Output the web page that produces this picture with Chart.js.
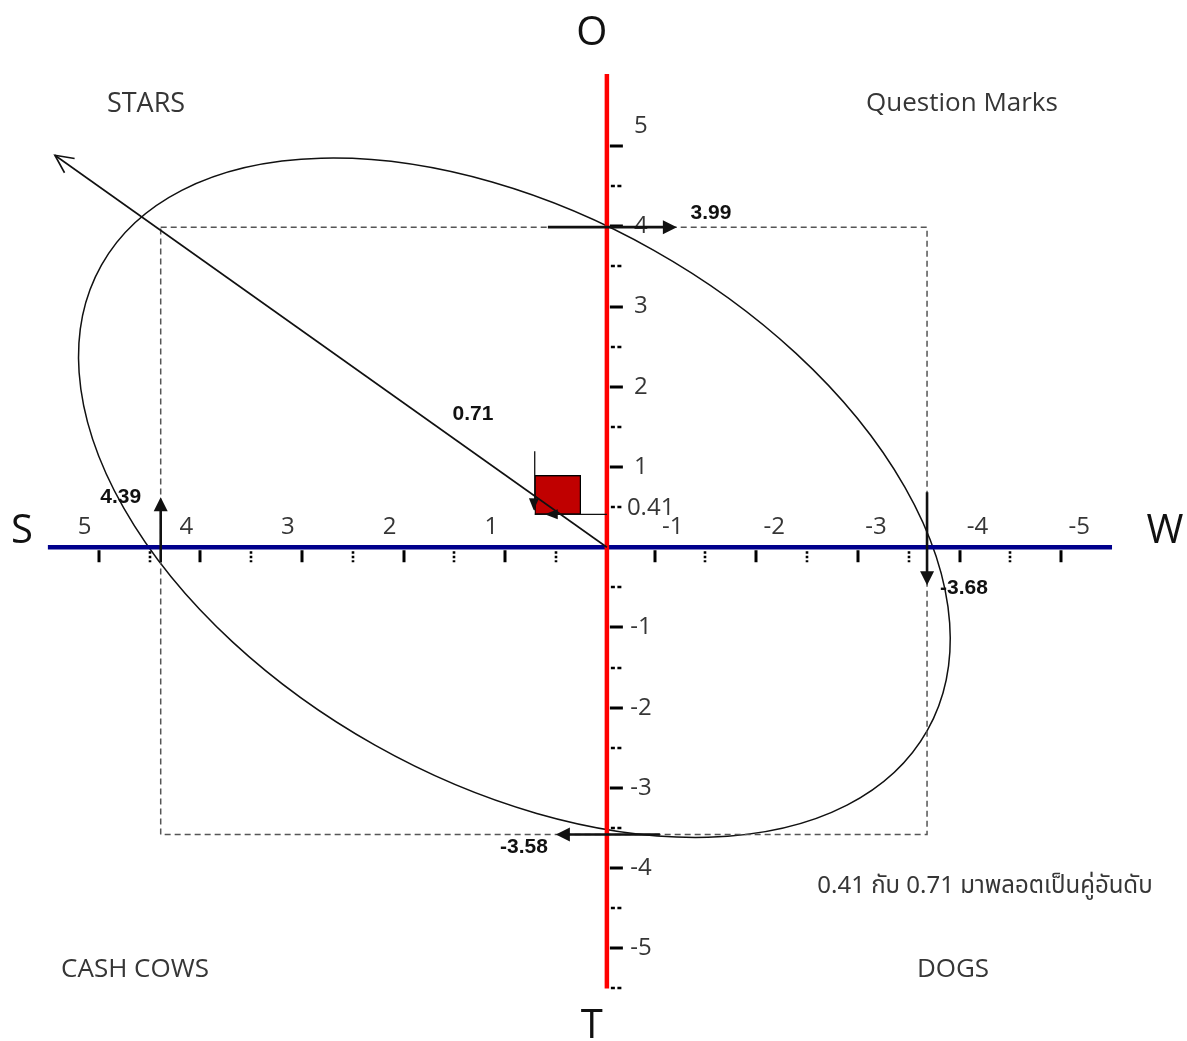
<!DOCTYPE html>
<html>
<head>
<meta charset="utf-8">
<title>SWOT position</title>
<script src="https://cdn.jsdelivr.net/npm/chart.js@4.4.1/dist/chart.umd.min.js"></script>
<style>
    html, body { margin: 0; padding: 0; background: #fff; }
    #wrap { width: 1187px; height: 1041px; position: relative; }
</style>
</head>
<body>
<div id="wrap"><canvas id="swot"></canvas></div>
<script>
/* ---------- data ---------- */
// scores on each axis: S (x+), W (x-), O (y+), T (y-)
const axisNames  = ['S', 'W', 'O', 'T'];
const axisScores = [4.39, -3.68, 3.99, -3.58];
// plotted position (x, y)
const positionXY = [0.71, 0.41];
// axis ticks
const xTickValues  = [5, 4, 3, 2, 1, -1, -2, -3, -4, -5];
const xMinorValues = [4.5, 3.5, 2.5, 1.5, 0.5, -1.5, -2.5, -3.5, -4.5];
const yTickValues  = [5, 4, 3, 2, 1, -1, -2, -3, -4, -5];
const yMinorValues = [4.5, 3.5, 2.5, 1.5, 0.5, -0.5, -1.5, -2.5, -3.5, -4.5, -5.5];
const xAxisExtent = [5.5, -5.5];
const yAxisExtent = [5.9, -5.5];
const quadrantNames = ['STARS', 'Question Marks', 'CASH COWS', 'DOGS'];
const noteText = '0.41 กับ 0.71 มาพลอตเป็นคู่อันดับ';

/* ---------- layout / style ---------- */
const W = 1187, H = 1041;
const ORIGIN_X = 607, ORIGIN_Y = 547.5;
const UNIT_X = 102.5, UNIT_Y = 81;
const NEG_SHIFT = 0.53;          // the W side of the drawn axis starts about half a unit late
const BLUE = '#00008c', RED = '#ff0000', INK = '#111', GREY_TXT = '#363636';
const FONT = "'Open Sans', 'Noto Sans', 'DejaVu Sans', sans-serif";
const THAI_FONT = "'Noto Sans Thai', Tahoma, Loma, Garuda, 'Open Sans', 'Noto Sans', sans-serif";
const BOLD_FONT = "bold 21px 'Liberation Sans', Arial, sans-serif";
const ELLIPSE = { dx: -92.5, dy: -49.5, rx: 474, ry: 284, rot: 29.4 };
const DIAG = { dx: -552, dy: -392 };
const BOX = { w: 46, h: 39 };

// x scale: linear, but values below zero sit NEG_SHIFT further along
class ShiftedLinear extends Chart.LinearScale {
    getPixelForValue(v) {
        return super.getPixelForValue(v < 0 ? v + NEG_SHIFT : v);
    }
}
ShiftedLinear.id = 'shiftedLinear';
ShiftedLinear.defaults = Chart.LinearScale.defaults;
Chart.register(ShiftedLinear);

// red square marker, lower-left corner on the point
function makeBox() {
    const c = document.createElement('canvas');
    c.width = BOX.w * 2; c.height = BOX.h * 2;
    const g = c.getContext('2d');
    g.fillStyle = '#c00000';
    g.fillRect(BOX.w, 0, BOX.w, BOX.h);
    g.strokeStyle = '#000'; g.lineWidth = 1;
    g.strokeRect(BOX.w + 0.5, 0.5, BOX.w - 1, BOX.h - 1);
    return c;
}

function arrowHead(ctx, x1, y1, x2, y2, len, hw) {
    const a = Math.atan2(y2 - y1, x2 - x1);
    ctx.beginPath();
    ctx.moveTo(x2, y2);
    ctx.lineTo(x2 - len * Math.cos(a) + hw * Math.sin(a), y2 - len * Math.sin(a) - hw * Math.cos(a));
    ctx.lineTo(x2 - len * Math.cos(a) - hw * Math.sin(a), y2 - len * Math.sin(a) + hw * Math.cos(a));
    ctx.closePath();
    ctx.fill();
}

function arrow(ctx, x1, y1, x2, y2, lw, len, hw) {
    const a = Math.atan2(y2 - y1, x2 - x1);
    ctx.lineWidth = lw;
    ctx.beginPath();
    ctx.moveTo(x1, y1);
    ctx.lineTo(x2 - (len - 2) * Math.cos(a), y2 - (len - 2) * Math.sin(a));
    ctx.stroke();
    arrowHead(ctx, x1, y1, x2, y2, len, hw);
}

function text(ctx, str, x, y, font, color, align) {
    ctx.font = font;
    ctx.fillStyle = color;
    ctx.textAlign = align || 'center';
    ctx.textBaseline = 'middle';
    ctx.fillText(str, x, y);
}

const swotPlugin = {
    id: 'swotDiagram',
    beforeDatasetsDraw(chart) {
        const { ctx, scales: { x, y } } = chart;
        const ox = x.getPixelForValue(0), oy = y.getPixelForValue(0);
        ctx.save();

        // ellipse
        ctx.strokeStyle = INK; ctx.lineWidth = 1.5;
        ctx.beginPath();
        ctx.ellipse(ox + ELLIPSE.dx, oy + ELLIPSE.dy, ELLIPSE.rx, ELLIPSE.ry, ELLIPSE.rot * Math.PI / 180, 0, Math.PI * 2);
        ctx.stroke();

        // S - W axis
        ctx.strokeStyle = BLUE; ctx.lineWidth = 4.5;
        ctx.beginPath();
        ctx.moveTo(x.getPixelForValue(xAxisExtent[0]), oy);
        ctx.lineTo(x.getPixelForValue(xAxisExtent[1]), oy);
        ctx.stroke();

        // O - T axis
        ctx.strokeStyle = RED; ctx.lineWidth = 4.5;
        ctx.beginPath();
        ctx.moveTo(ox, y.getPixelForValue(yAxisExtent[0]));
        ctx.lineTo(ox, y.getPixelForValue(yAxisExtent[1]));
        ctx.stroke();

        // ticks
        ctx.strokeStyle = '#000'; ctx.lineWidth = 3;
        xTickValues.forEach(v => {
            const px = Math.round(x.getPixelForValue(v));
            ctx.beginPath(); ctx.moveTo(px, oy + 3); ctx.lineTo(px, oy + 15); ctx.stroke();
        });
        yTickValues.forEach(v => {
            const py = Math.round(y.getPixelForValue(v));
            ctx.beginPath(); ctx.moveTo(ox + 3, py); ctx.lineTo(ox + 16, py); ctx.stroke();
        });
        ctx.lineWidth = 2.6;
        ctx.setLineDash([2.5, 2]);
        xMinorValues.forEach(v => {
            const px = Math.round(x.getPixelForValue(v));
            ctx.beginPath(); ctx.moveTo(px, oy + 4); ctx.lineTo(px, oy + 15); ctx.stroke();
        });
        ctx.setLineDash([4, 2.5]);
        yMinorValues.forEach(v => {
            const py = Math.round(y.getPixelForValue(v));
            ctx.beginPath(); ctx.moveTo(ox + 4, py); ctx.lineTo(ox + 16, py); ctx.stroke();
        });
        ctx.setLineDash([]);

        // tick labels
        xTickValues.forEach(v => {
            const px = x.getPixelForValue(v) + (v > 0 ? -14 : 18);
            text(ctx, String(v), px, oy - 20, `24px ${FONT}`, GREY_TXT);
        });
        yTickValues.forEach(v => {
            const py = y.getPixelForValue(v) + (v === 5 ? -20 : 0);
            text(ctx, String(v), ox + 34, py, `24px ${FONT}`, GREY_TXT);
        });
        ctx.restore();
    },
    afterDatasetsDraw(chart) {
        const { ctx, scales: { x, y } } = chart;
        const ox = x.getPixelForValue(0), oy = y.getPixelForValue(0);
        const [s, w, o, t] = axisScores;
        const sx = x.getPixelForValue(s), wx = x.getPixelForValue(w);
        const oyPx = y.getPixelForValue(o), tyPx = y.getPixelForValue(t);
        const px = x.getPixelForValue(positionXY[0]), py = y.getPixelForValue(positionXY[1]);
        ctx.save();
        ctx.strokeStyle = INK; ctx.fillStyle = INK;

        // thin projection arrows onto the point
        ctx.lineWidth = 1.3;
        ctx.beginPath(); ctx.moveTo(px, py - 63); ctx.lineTo(px, py - 4); ctx.stroke();
        arrowHead(ctx, px, py - 63, px - 1, py - 4, 12, 5);
        arrowHead(ctx, ox, py, px + 10, py, 13, 5);

        // diagonal with open head
        const dx = ox + DIAG.dx, dy = oy + DIAG.dy;
        ctx.lineWidth = 1.6;
        ctx.beginPath(); ctx.moveTo(ox, oy); ctx.lineTo(dx, dy); ctx.stroke();
        const a = Math.atan2(dy - oy, dx - ox);
        ctx.beginPath();
        ctx.moveTo(dx - 20 * Math.cos(a - 0.45), dy - 20 * Math.sin(a - 0.45));
        ctx.lineTo(dx, dy);
        ctx.lineTo(dx - 20 * Math.cos(a + 0.45), dy - 20 * Math.sin(a + 0.45));
        ctx.stroke();

        // thick score arrows
        arrow(ctx, sx, oy + 15, sx, oy - 50, 2.6, 14, 7);          // S up
        arrow(ctx, wx, oy - 55, wx, oy + 38, 2.6, 14, 7);          // W down
        arrow(ctx, ox - 59, oyPx, ox + 70, oyPx, 2.6, 14, 7);      // O right
        arrow(ctx, ox + 53, tyPx, ox - 51, tyPx, 2.6, 14, 7);      // T left

        // value labels
        text(ctx, String(s), sx - 40, oy - 50, BOLD_FONT, INK);
        text(ctx, String(w), wx + 37, oy + 41, BOLD_FONT, INK);
        text(ctx, String(o), ox + 104, oyPx - 14, BOLD_FONT, INK);
        text(ctx, String(t), ox - 83, tyPx + 13, BOLD_FONT, INK);
        text(ctx, String(positionXY[0]), ox - 134, oy - 133, BOLD_FONT, INK);
        text(ctx, String(positionXY[1]), ox + 20, py - 6, `24px ${FONT}`, GREY_TXT, 'left');

        // axis letters
        text(ctx, axisNames[0], 22, oy - 16, `40px ${FONT}`, INK);
        text(ctx, axisNames[1], 1165, oy - 16, `40px ${FONT}`, INK);
        text(ctx, axisNames[2], ox - 15, 34, `40px ${FONT}`, INK);
        text(ctx, axisNames[3], ox - 15, 1027, `40px ${FONT}`, INK);

        // quadrant names
        text(ctx, quadrantNames[0], 146, 104, `27px ${FONT}`, GREY_TXT);
        text(ctx, quadrantNames[1], 962, 104, `26px ${FONT}`, GREY_TXT);
        text(ctx, quadrantNames[2], 135, 970, `26px ${FONT}`, GREY_TXT);
        text(ctx, quadrantNames[3], 953, 970, `26px ${FONT}`, GREY_TXT);

        text(ctx, noteText, 985, 888, `24px ${THAI_FONT}`, GREY_TXT);
        ctx.restore();
    }
};

const [S, Wk, O, T] = axisScores;
const xMax = ORIGIN_X / UNIT_X, xMin = xMax - W / UNIT_X;
const yMax = ORIGIN_Y / UNIT_Y, yMin = yMax - H / UNIT_Y;

new Chart(document.getElementById('swot').getContext('2d'), {
    type: 'scatter',
    data: {
        datasets: [
            {
                // dashed box through the four scores
                data: [{ x: S, y: O }, { x: Wk, y: O }, { x: Wk, y: T }, { x: S, y: T }, { x: S, y: O }],
                showLine: true,
                borderColor: '#555',
                borderWidth: 1.5,
                borderDash: [6, 4],
                pointRadius: 0,
                fill: false
            },
            {
                // projection from the O-T axis to the point
                data: [{ x: 0, y: positionXY[1] }, { x: positionXY[0], y: positionXY[1] }],
                showLine: true,
                borderColor: INK,
                borderWidth: 1.3,
                pointRadius: 0
            },
            {
                data: [{ x: positionXY[0], y: positionXY[1] }],
                pointStyle: makeBox(),
                pointRadius: 1
            }
        ]
    },
    options: {
        animation: false,
        responsive: true,
        maintainAspectRatio: false,
        layout: { padding: 0 },
        plugins: {
            legend: { display: false },
            tooltip: { enabled: false }
        },
        scales: {
            x: { type: 'shiftedLinear', reverse: true, bounds: 'data', min: xMin, max: xMax, display: false },
            y: { type: 'linear', bounds: 'data', min: yMin, max: yMax, display: false }
        }
    },
    plugins: [swotPlugin]
});
</script>
</body>
</html>
